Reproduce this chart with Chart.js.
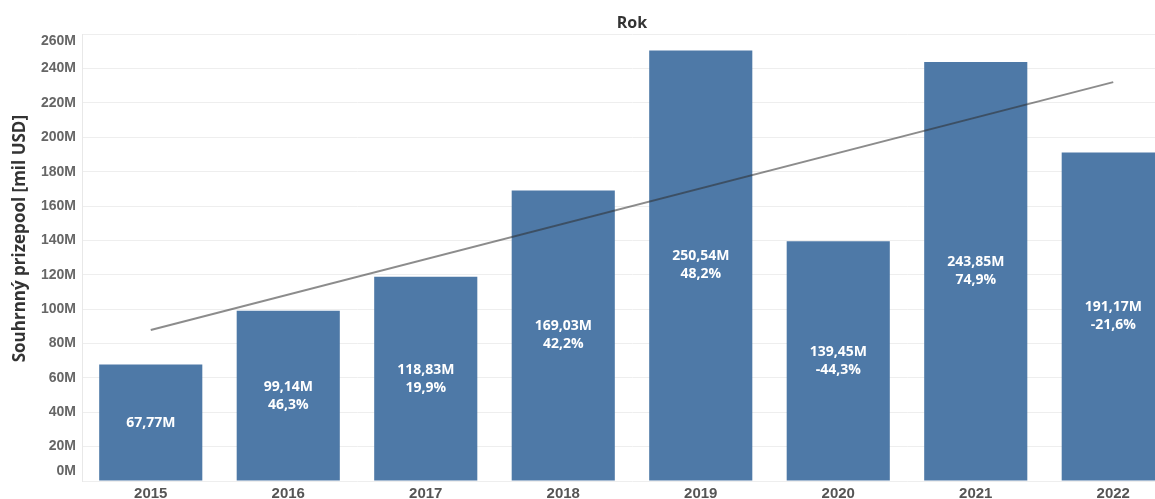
<!DOCTYPE html>
<html>
<head>
<meta charset="utf-8">
<script src="https://cdn.jsdelivr.net/npm/chart.js@4/dist/chart.umd.min.js"></script>
<style>
  html, body { margin: 0; padding: 0; background: #fff; overflow: hidden; }
  #wrap { width: 1182px; height: 499px; }
</style>
</head>
<body>
<div id="wrap"><canvas id="c" width="1182" height="499"></canvas></div>
<script>
// Annual prize pool totals (millions USD)
const years = ['2015', '2016', '2017', '2018', '2019', '2020', '2021', '2022'];
const prizePool = [67.77, 99.14, 118.83, 169.03, 250.54, 139.45, 243.85, 191.17];
// Year-over-year change in percent (none for the first year)
const yoyChange = [null, 46.3, 19.9, 42.2, 48.2, -44.3, 74.9, -21.6];
// Linear trend line: value at the first and at the last year
const trendStart = 87.9;
const trendEnd = 232.1;
const trendLine = years.map((_, i) => i === 0 ? trendStart : (i === years.length - 1 ? trendEnd : null));

const yTicks = { min: 0, max: 260, step: 20 };
const yTitle = 'Souhrnný prizepool [mil USD]';

const fmtNum = (v, d) => v.toFixed(d).replace('.', ',');

// White value / change labels in the middle of each bar
const barLabels = {
  id: 'barLabels',
  afterDatasetsDraw(chart) {
    const meta = chart.getDatasetMeta(1);
    const ctx = chart.ctx;
    ctx.save();
    ctx.fillStyle = '#ffffff';
    ctx.font = 'bold 14px "Open Sans", sans-serif';
    ctx.textAlign = 'center';
    ctx.textBaseline = 'middle';
    meta.data.forEach((el, i) => {
      const cy = (el.y + el.base) / 2;
      const lines = [fmtNum(prizePool[i], 2) + 'M'];
      if (yoyChange[i] !== null) lines.push(fmtNum(yoyChange[i], 1) + '%');
      const gap = 18;
      const y0 = cy - (lines.length - 1) * gap / 2;
      lines.forEach((t, k) => ctx.fillText(t, el.x, y0 + k * gap));
    });
    ctx.restore();
  }
};

// End labels of the value axis are kept inside the plot area; axis title
const axisExtras = {
  id: 'axisExtras',
  afterDraw(chart) {
    const s = chart.scales.y;
    const ctx = chart.ctx;
    ctx.save();
    ctx.fillStyle = '#666666';
    ctx.font = 'bold 14px "Liberation Sans", Arial, sans-serif';
    ctx.textAlign = 'right';
    ctx.textBaseline = 'middle';
    ctx.fillText(yTicks.min + 'M', s.right - 6, s.getPixelForValue(yTicks.min) - 10);
    ctx.fillText(yTicks.max + 'M', s.right - 6, s.getPixelForValue(yTicks.max) + 7);

    ctx.translate(20, s.getPixelForValue(130) - 19);
    ctx.rotate(-Math.PI / 2);
    ctx.fillStyle = '#333333';
    ctx.font = 'bold 17px "Open Sans", sans-serif';
    ctx.textAlign = 'center';
    ctx.fillText(yTitle, 0, 0);
    ctx.restore();
  }
};

new Chart(document.getElementById('c'), {
  data: {
    labels: years,
    datasets: [
      {
        type: 'line',
        data: trendLine,
        spanGaps: true,
        borderColor: 'rgba(45,45,45,0.55)',
        borderWidth: 2,
        pointRadius: 0,
        order: 0
      },
      {
        type: 'bar',
        data: prizePool,
        backgroundColor: '#4e79a7',
        categoryPercentage: 1.0,
        barPercentage: 0.75,
        order: 1
      }
    ]
  },
  options: {
    responsive: false,
    animation: false,
    layout: { padding: 0 },
    plugins: {
      legend: { display: false },
      tooltip: { enabled: false },
      title: {
        display: true,
        text: 'Rok',
        fullSize: false,
        color: '#333333',
        font: { family: '"Open Sans", sans-serif', size: 16, weight: 'bold' },
        padding: { top: 14, bottom: 1 }
      }
    },
    scales: {
      x: {
        grid: { display: false, drawTicks: false },
        border: { display: false },
        ticks: {
          color: '#555555',
          font: { family: '"Liberation Sans", Arial, sans-serif', size: 15, weight: 'bold' },
          padding: 4,
          maxRotation: 0
        },
        afterFit(scale) { scale.height = 18; }
      },
      y: {
        min: yTicks.min,
        max: yTicks.max,
        grid: { color: '#eeeeee', drawTicks: false },
        border: { display: true, color: '#e8e8e8' },
        ticks: {
          stepSize: yTicks.step,
          padding: 6,
          color: (c) => (c.tick.value === yTicks.min || c.tick.value === yTicks.max) ? 'rgba(0,0,0,0)' : '#666666',
          font: { family: '"Liberation Sans", Arial, sans-serif', size: 14, weight: 'bold' },
          callback: (v) => v + 'M'
        },
        title: { display: false },
        afterFit(scale) { scale.width = 82; }
      }
    }
  },
  plugins: [barLabels, axisExtras]
});
</script>
</body>
</html>
